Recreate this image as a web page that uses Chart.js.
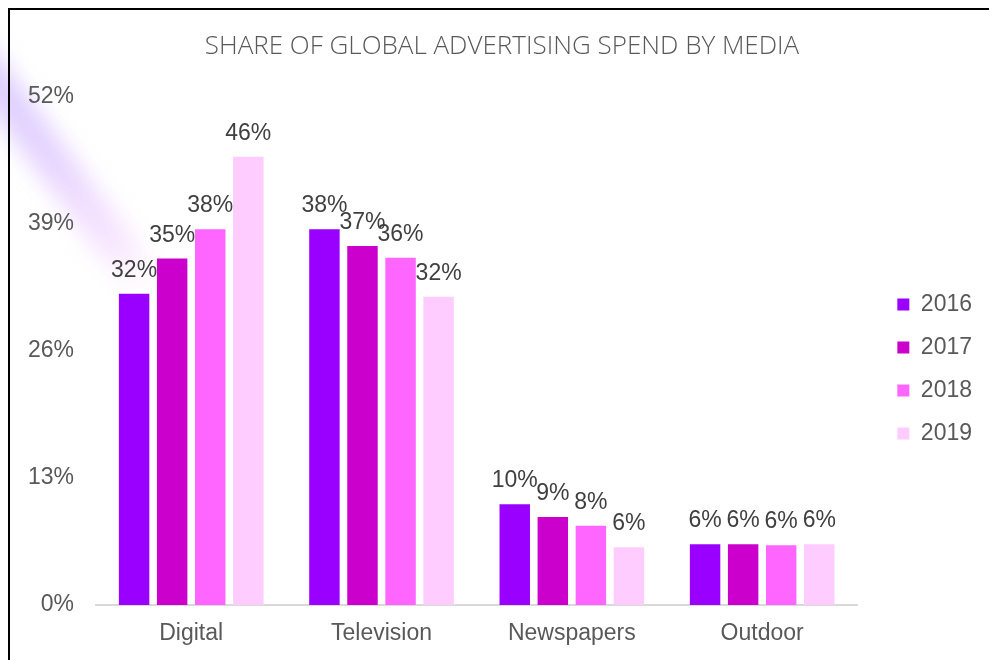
<!DOCTYPE html>
<html>
<head>
<meta charset="utf-8">
<script src="https://cdn.jsdelivr.net/npm/chart.js@4.4.0/dist/chart.umd.min.js"></script>
<style>
  html, body { margin: 0; padding: 0; background: #ffffff; }
  #wrap { width: 989px; height: 660px; position: relative; }
</style>
</head>
<body>
<div id="wrap"><canvas id="c" width="989" height="660"></canvas></div>
<script>
const categories = ['Digital', 'Television', 'Newspapers', 'Outdoor'];
const seriesNames = ['2016', '2017', '2018', '2019'];
const values2016 = [31.8, 38.4, 10.3, 6.2];
const values2017 = [35.4, 36.7, 9.0, 6.2];
const values2018 = [38.4, 35.5, 8.1, 6.1];
const values2019 = [45.8, 31.5, 5.9, 6.2];
const seriesColors = ['#9900FF', '#CC00CC', '#FF66FF', '#FFCCFF'];
const yTicks = [0, 13, 26, 39, 52];
const chartTitle = 'SHARE OF GLOBAL ADVERTISING SPEND BY MEDIA';

const seriesValues = [values2016, values2017, values2018, values2019];
const axisFont = { family: 'Liberation Sans, Arial, sans-serif', size: 23 };
const xAxisFont = { family: 'Liberation Sans, Arial, sans-serif', size: 23, lineHeight: 1.0 };

const glowPlugin = {
  id: 'glow',
  beforeDraw(chart) {
    const ctx = chart.ctx;
    ctx.save();
    const x0 = -30, y0 = 50, x1 = 152, y1 = 294;
    const g = ctx.createLinearGradient(x0, y0, x1, y1);
    g.addColorStop(0, 'rgba(185,160,255,0.55)');
    g.addColorStop(0.45, 'rgba(200,160,255,0.45)');
    g.addColorStop(0.8, 'rgba(230,170,255,0.3)');
    g.addColorStop(1, 'rgba(245,200,255,0)');
    ctx.filter = 'blur(11px)';
    ctx.strokeStyle = g;
    ctx.lineWidth = 38;
    ctx.lineCap = 'round';
    ctx.beginPath();
    ctx.moveTo(x0, y0);
    ctx.lineTo(x1, y1);
    ctx.stroke();
    ctx.restore();
  }
};

const labelPlugin = {
  id: 'barLabels',
  afterDatasetsDraw(chart) {
    const ctx = chart.ctx;
    ctx.save();
    ctx.font = '23px "Liberation Sans", Arial, sans-serif';
    ctx.fillStyle = '#404040';
    ctx.textAlign = 'center';
    ctx.textBaseline = 'alphabetic';
    chart.data.datasets.forEach((ds, di) => {
      const meta = chart.getDatasetMeta(di);
      meta.data.forEach((bar, i) => {
        ctx.fillText(Math.round(ds.data[i]) + '%', bar.x, bar.y - 17);
      });
    });
    ctx.restore();
  }
};

const frameAndLegendShift = {
  id: 'frameShift',
  afterLayout(chart) {
    const lg = chart.legend;
    if (lg) {
      const dx = 20, dy = 38;
      lg.left += dx; lg.right += dx;
      lg.top += dy; lg.bottom += dy;
    }
    const tb = chart.titleBlock;
    if (tb) {
      const tx = 18;
      tb.left += tx; tb.right += tx;
    }
  },
  afterDraw(chart) {
    const ctx = chart.ctx;
    ctx.save();
    ctx.fillStyle = '#000000';
    ctx.fillRect(8, 8, 981, 2);
    ctx.fillRect(8, 8, 2, 652);
    ctx.restore();
  }
};

new Chart(document.getElementById('c'), {
  type: 'bar',
  data: {
    labels: categories,
    datasets: seriesNames.map((name, i) => ({
      label: name,
      data: seriesValues[i],
      backgroundColor: seriesColors[i],
      borderWidth: 0,
      categoryPercentage: 0.8,
      barPercentage: 0.8
    }))
  },
  options: {
    responsive: false,
    animation: false,
    devicePixelRatio: 1,
    layout: { padding: { left: 6, right: 27, top: 0, bottom: -2 } },
    plugins: {
      title: {
        display: true,
        text: chartTitle,
        color: '#595959',
        font: { family: 'Open Sans, sans-serif', size: 26, weight: '300', lineHeight: 1.2 },
        padding: { top: 31, bottom: 34 }
      },
      legend: {
        display: true,
        position: 'right',
        labels: {
          boxWidth: 12,
          boxHeight: 12,
          padding: 20,
          color: '#595959',
          font: axisFont
        }
      },
      tooltip: { enabled: false }
    },
    scales: {
      x: {
        grid: { display: false, drawTicks: false },
        border: { display: true, color: '#D9D9D9', width: 2 },
        ticks: { color: '#595959', font: xAxisFont, padding: 17 }
      },
      y: {
        min: 0,
        max: 52,
        afterBuildTicks(scale) { scale.ticks = yTicks.map(v => ({ value: v })); },
        grid: { display: false, drawTicks: false },
        border: { display: false },
        ticks: { color: '#595959', font: axisFont, padding: 22, callback: v => v + '%' }
      }
    }
  },
  plugins: [glowPlugin, labelPlugin, frameAndLegendShift]
});
</script>
</body>
</html>
